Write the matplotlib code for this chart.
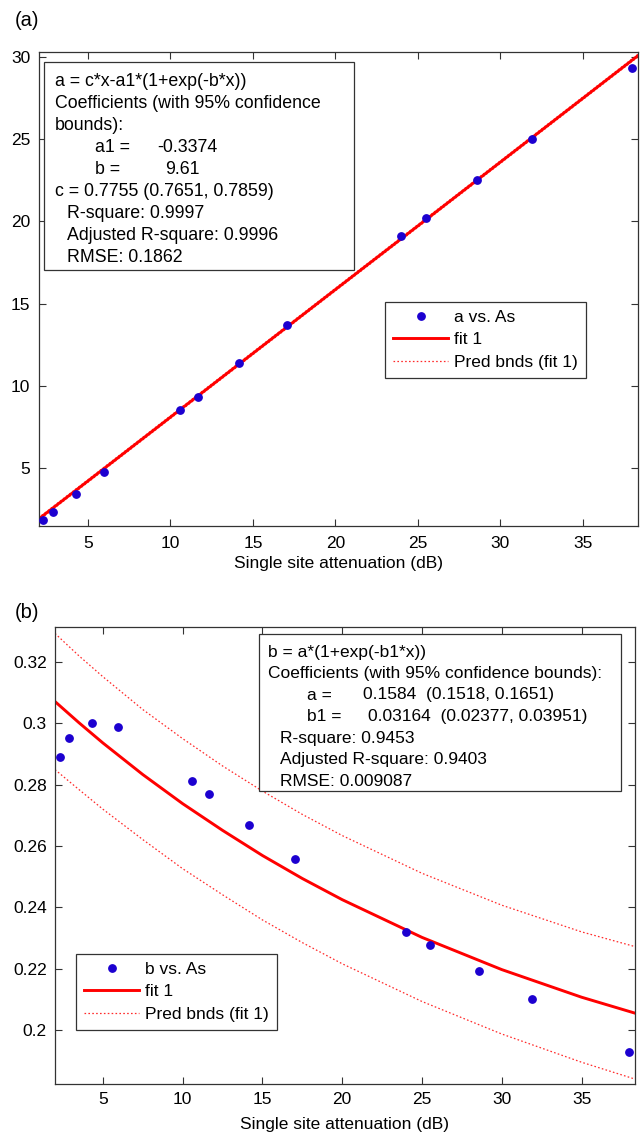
import matplotlib.pyplot as plt
from matplotlib.patches import Rectangle

plt.rcParams['font.family'] = ['Liberation Sans', 'DejaVu Sans']

W, H = 641, 1132
FS = 12.5

# measured data: single site attenuation As (dB) and fitted parameters a, b
As = [2.3, 2.9, 4.3, 5.95, 10.6, 11.65, 14.15, 17.05, 24.0, 25.5, 28.6, 31.9, 38.0]
a_vals = [1.83, 2.33, 3.42, 4.76, 8.5, 9.3, 11.4, 13.7, 19.1, 20.2, 22.5, 25.0, 29.3]
b_vals = [0.2891, 0.2952, 0.3001, 0.2988, 0.2813, 0.2768, 0.2667, 0.2557,
          0.2320, 0.2278, 0.2191, 0.2100, 0.1928]

# fit curves and prediction bounds, read at these x positions
x_fit = [2.0, 3.5, 5, 7.5, 10, 12.5, 15, 17.5, 20, 25, 30, 35, 38.35]
a_fit = [1.89, 3.05, 4.21, 6.15, 8.09, 10.03, 11.97, 13.91, 15.85, 19.72, 23.60, 27.48, 30.08]
a_upper = [1.97, 3.13, 4.29, 6.23, 8.17, 10.11, 12.05, 13.99, 15.93, 19.80, 23.68, 27.56, 30.16]
a_lower = [1.81, 2.97, 4.13, 6.07, 8.01, 9.95, 11.89, 13.83, 15.77, 19.64, 23.52, 27.40, 30.00]
b_fit = [0.3071, 0.3002, 0.2936, 0.2833, 0.2738, 0.2651, 0.2569, 0.2494,
         0.2425, 0.2302, 0.2197, 0.2107, 0.2055]
b_upper = [0.3293, 0.3220, 0.3152, 0.3045, 0.2950, 0.2861, 0.2779, 0.2703,
           0.2634, 0.2511, 0.2407, 0.2320, 0.2272]
b_lower = [0.2849, 0.2784, 0.2720, 0.2621, 0.2526, 0.2441, 0.2359, 0.2285,
           0.2216, 0.2093, 0.1987, 0.1895, 0.1840]

a_box = ["a = c*x-a1*(1+exp(-b*x))", "Coefficients (with 95% confidence", "bounds):",
         "a1 =", "b =", "c = 0.7755 (0.7651, 0.7859)",
         "R-square: 0.9997", "Adjusted R-square: 0.9996", "RMSE: 0.1862"]
b_box = ["b = a*(1+exp(-b1*x))", "Coefficients (with 95% confidence bounds):",
         "a =", "b1 =", "R-square: 0.9453", "Adjusted R-square: 0.9403", "RMSE: 0.009087"]

BLUE = '#1c00d0'
RED = '#ff0000'
PINK = '#ff2a2a'
EDGE = '#333333'


def fx(x):
    return x / W


def fy(y):
    return 1 - y / H


fig = plt.figure(figsize=(W / 100, H / 100), dpi=100)
fig.patch.set_facecolor('white')

ax1 = fig.add_axes([fx(38.5), fy(526), (638 - 38.5) / W, (526 - 52) / H])
ax2 = fig.add_axes([fx(55), fy(1084), (635 - 55) / W, (1084 - 627) / H])


def style(ax, xpad):
    for s in ax.spines.values():
        s.set_color(EDGE)
        s.set_linewidth(0.9)
    ax.tick_params(direction='in', top=True, right=True, length=5, width=0.8,
                   color=EDGE, labelsize=FS, pad=6)
    ax.tick_params(axis='x', pad=xpad)
    ax.set_xlim(2.0, 38.35)
    ax.set_xticks([5, 10, 15, 20, 25, 30, 35])


def panel(ax, y, fit, up, lo, name):
    ax.plot(As, y, 'o', color=BLUE, ms=5.3, mec=BLUE, label=name, zorder=3)
    ax.plot(x_fit, fit, '-', color=RED, lw=2.1, label='fit 1', zorder=2)
    ax.plot(x_fit, up, color=PINK, lw=0.9, ls=(0, (1.3, 1.8)), label='Pred bnds (fit 1)', zorder=1)
    ax.plot(x_fit, lo, color=PINK, lw=0.9, ls=(0, (1.3, 1.8)), zorder=1)


panel(ax1, a_vals, a_fit, a_upper, a_lower, 'a vs. As')
style(ax1, 7)
ax1.set_ylim(1.47, 30.3)
ax1.set_yticks([5, 10, 15, 20, 25, 30])
ax1.set_xlabel('Single site attenuation (dB)', fontsize=FS, labelpad=4)

panel(ax2, b_vals, b_fit, b_upper, b_lower, 'b vs. As')
style(ax2, 6)
ax2.set_ylim(0.1824, 0.3314)
ax2.set_yticks([0.2, 0.22, 0.24, 0.26, 0.28, 0.3, 0.32])
ax2.set_yticklabels(['0.2', '0.22', '0.24', '0.26', '0.28', '0.3', '0.32'])
ax2.set_xlabel('Single site attenuation (dB)', fontsize=FS, labelpad=7)

fig.text(fx(15), fy(20), '(a)', fontsize=14.5, va='center', ha='left')
fig.text(fx(15), fy(613), '(b)', fontsize=14.5, va='center', ha='left')


def textbox(x0, y0, x1, y1):
    fig.patches.append(Rectangle((fx(x0), fy(y1)), (x1 - x0) / W, (y1 - y0) / H,
                                 transform=fig.transFigure, facecolor='white',
                                 edgecolor=EDGE, lw=0.9, zorder=5))


def line(x, y, s, fs=FS):
    fig.text(fx(x), fy(y), s, fontsize=fs, va='center', ha='left', zorder=6)


# coefficient box, panel (a)
textbox(44, 62, 354, 270)
ys = [82 + 21.9 * i for i in range(9)]
xs = [55, 55, 55, 95, 95, 55, 67, 67, 67]
for x, y, s in zip(xs, ys, a_box):
    line(x, y, s, 12.8)
line(157, ys[3], '-0.3374', 12.8)
line(165, ys[4], '9.61', 12.8)

# coefficient box, panel (b)
textbox(259, 634, 621, 791)
ys = [652 + 21.5 * i for i in range(7)]
xs = [268, 268, 307, 307, 280, 280, 280]
for x, y, s in zip(xs, ys, b_box):
    line(x, y, s)
line(363, ys[2], '0.1584  (0.1518, 0.1651)')
line(368, ys[3], '0.03164  (0.02377, 0.03951)')

# legends
for ax, (lx, ly) in ((ax1, (385, 302)), (ax2, (76, 954))):
    leg = ax.legend(loc='upper left', bbox_to_anchor=(fx(lx), fy(ly)),
                    bbox_transform=fig.transFigure, borderaxespad=0,
                    fontsize=FS, numpoints=1, handlelength=3.2, handletextpad=0.35,
                    labelspacing=0.42, borderpad=0.45, fancybox=False,
                    framealpha=1, edgecolor=EDGE)
    leg.get_frame().set_linewidth(0.9)

fig.savefig('out.png', dpi=100)
